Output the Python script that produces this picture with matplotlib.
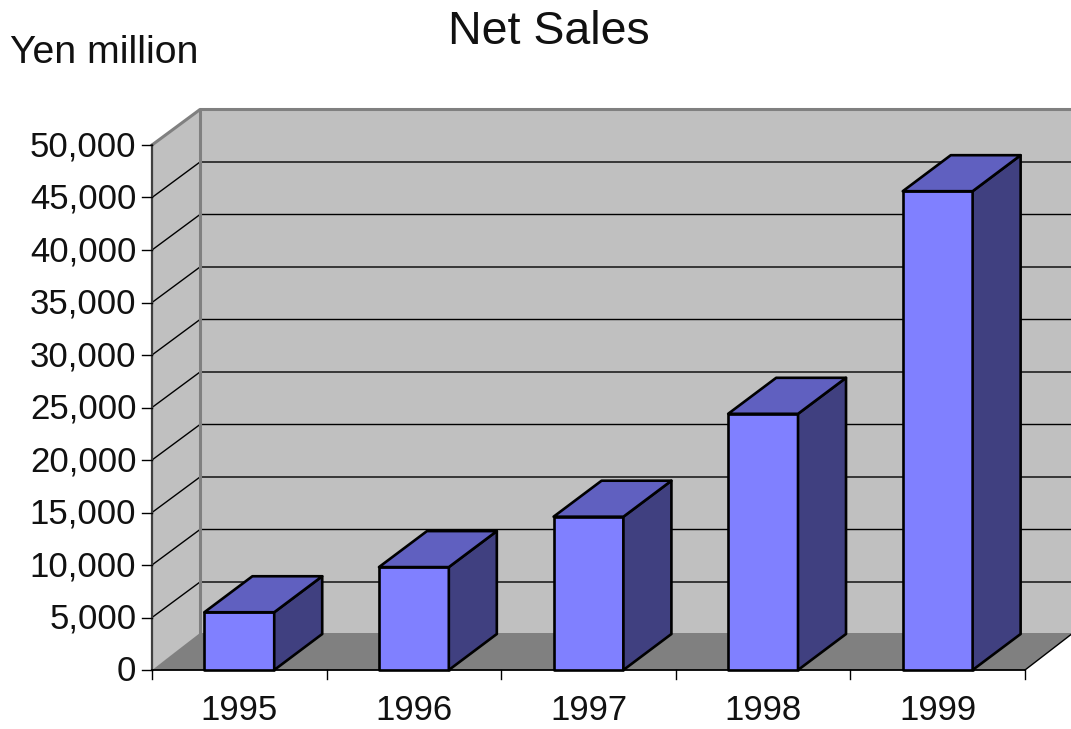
import matplotlib
matplotlib.use("Agg")
import matplotlib.pyplot as plt
from matplotlib.patches import Polygon

years = ["1995", "1996", "1997", "1998", "1999"]
net_sales = [5500, 9800, 14600, 24400, 45600]
y_ticks = [0, 5000, 10000, 15000, 20000, 25000, 30000, 35000, 40000, 45000, 50000]

plt.rcParams['font.family'] = 'Liberation Sans'

W, H = 1071, 729
fig = plt.figure(figsize=(W / 100, H / 100), dpi=100)
# front plane of the 3d box
ax = fig.add_axes([152 / W, (H - 670) / H, 873 / W, 525 / H])
ax.set_xlim(0, 5)
ax.set_ylim(0, 50000)
ax.axis("off")

# depth offset, in data units
dx = 48 / 174.6
dy = 36 / 525 * 50000
wall_dy = 35.5 / 525 * 50000
floor_dy = 37 / 525 * 50000
bar_left = 0.30
bar_width = 0.40
top = y_ticks[-1]
right = len(years)


def poly(pts, **kw):
    p = Polygon(pts, closed=True, clip_on=False, **kw)
    ax.add_patch(p)


# walls and floor
poly([(dx, wall_dy), (right + dx, wall_dy), (right + dx, top + wall_dy), (dx, top + wall_dy)], fc="#c0c0c0", ec="none", zorder=1)
poly([(0, 0), (dx, wall_dy), (dx, top + wall_dy), (0, top)], fc="#c0c0c0", ec="none", zorder=1)
poly([(0, 0), (right, 0), (right + dx, floor_dy), (dx, floor_dy)], fc="#808080", ec="none", zorder=1)

# gridlines
for v in y_ticks[1:-1]:
    ax.plot([0, dx, right + dx], [v, v + wall_dy, v + wall_dy], color="black", lw=1, zorder=2, clip_on=False)
ax.plot([0, dx, right + dx], [top, top + wall_dy, top + wall_dy], color="#808080", lw=2.2, zorder=2, clip_on=False)
ax.plot([dx, dx], [floor_dy, top + wall_dy], color="#808080", lw=2.2, zorder=2, clip_on=False)
ax.plot([right, right + dx], [0, floor_dy], color="black", lw=1, zorder=2, clip_on=False)

# axes and ticks
ax.plot([0, 0], [0, top], color="#404040", lw=1.6, zorder=3, clip_on=False)
ax.plot([0, right], [0, 0], color="black", lw=1.3, zorder=3, clip_on=False)
for v in y_ticks:
    ax.plot([-0.055, 0], [v, v], color="black", lw=1, zorder=3, clip_on=False)
    ax.text(-0.09, v - 150, f"{v:,}", ha="right", va="center", fontsize=25, color="#111111")
for i in range(len(years) + 1):
    ax.plot([i, i], [0, -900], color="black", lw=1, zorder=3, clip_on=False)

# bars
for i, (yr, v) in enumerate(zip(years, net_sales)):
    x0 = i + bar_left
    x1 = x0 + bar_width
    poly([(x0, 0), (x1, 0), (x1, v), (x0, v)], fc="#8080ff", ec="black", lw=1.9, joinstyle="round", zorder=5)
    poly([(x1, 0), (x1 + dx, dy), (x1 + dx, v + dy), (x1, v)], fc="#404080", ec="black", lw=1.9, joinstyle="round", zorder=5)
    poly([(x0, v), (x1, v), (x1 + dx, v + dy), (x0 + dx, v + dy)], fc="#6060c0", ec="black", lw=1.9, joinstyle="round", zorder=5)
    ax.text(i + 0.5, -3850, yr, ha="center", va="center", fontsize=25, color="#111111")

fig.text(548.5 / W, 1 - 32 / H, "Net Sales", ha="center", va="center", fontsize=33.5, color="#111111")
fig.text(10 / W, 1 - 53 / H, "Yen million", ha="left", va="center", fontsize=28.3, color="#111111")

fig.savefig("out.png", dpi=100)
